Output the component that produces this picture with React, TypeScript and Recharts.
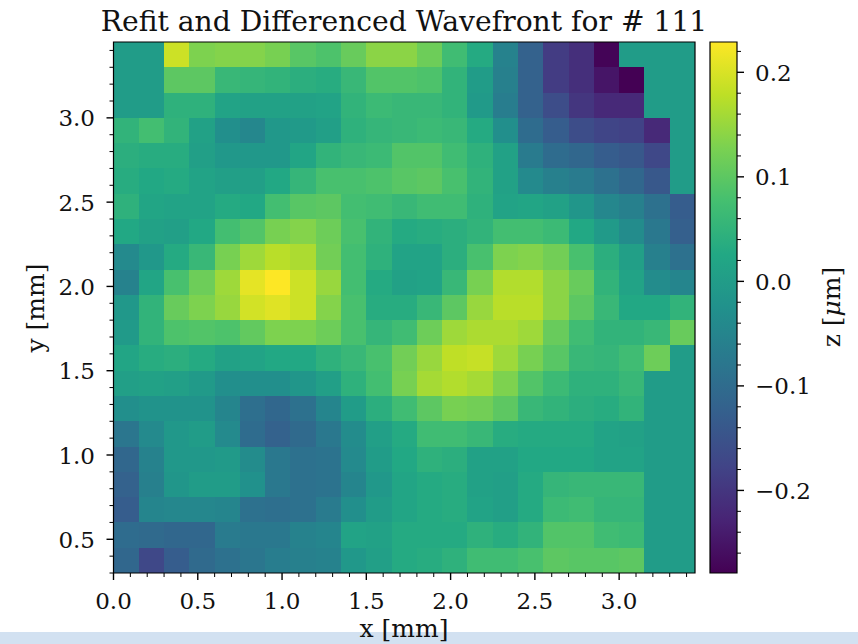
import React from "react";
import { ComposedChart, Scatter, Area, XAxis, YAxis, ReferenceArea } from "recharts";

const titleText = "Refit and Differenced Wavefront for # 111";
const xLabelText = "x [mm]";
const yLabelText = "y [mm]";

const xTicks = [0,0.1,0.2,0.3,0.4,0.5,0.6,0.7,0.8,0.9,1,1.1,1.2,1.3,1.4,1.5,1.6,1.7,1.8,1.9,2,2.1,2.2,2.3,2.4,2.5,2.6,2.7,2.8,2.9,3,3.1,3.2,3.3,3.4];
const yTicks = [0.3,0.4,0.5,0.6,0.7,0.8,0.9,1,1.1,1.2,1.3,1.4,1.5,1.6,1.7,1.8,1.9,2,2.1,2.2,2.3,2.4,2.5,2.6,2.7,2.8,2.9,3,3.1,3.2,3.3,3.4];
const zTicks = [-0.26,-0.24,-0.22,-0.2,-0.18,-0.16,-0.14,-0.12,-0.1,-0.08,-0.06,-0.04,-0.02,0,0.02,0.04,0.06,0.08,0.1,0.12,0.14,0.16,0.18,0.2,0.22];

const viridis = ["#440154","#482475","#414487","#355f8d","#2a788e","#21918c","#22a884","#44bf70","#7ad151","#bddf26","#fde725"];
const Z_MIN = -0.279;
const Z_MAX = 0.229;
const X_MAX = 3.45;
const Y_MIN = 0.3;
const Y_MAX = 3.45;
const STEP = 0.15;

// z [um], first row is the top of the image
const zRows: number[][] = [
  [0,0,0.19,0.13,0.135,0.135,0.125,0.095,0.085,0.11,0.14,0.14,0.115,0.07,0.03,-0.055,-0.12,-0.19,-0.21,-0.275,0,0,0],
  [0,0,0.10,0.10,0.06,0.055,0.05,0.04,0.035,0.06,0.09,0.09,0.085,0.05,0,-0.06,-0.12,-0.19,-0.21,-0.25,-0.279,0,0],
  [0,0,0.045,0.045,0.015,0.01,0.01,0.01,0.015,0.05,0.065,0.06,0.06,0.05,-0.005,-0.065,-0.12,-0.16,-0.2,-0.22,-0.22,0,0],
  [0.05,0.075,0.05,0.01,-0.03,-0.045,-0.01,-0.005,0.005,0.045,0.055,0.06,0.065,0.06,0.03,-0.03,-0.1,-0.13,-0.16,-0.175,-0.18,-0.22,0],
  [0.04,0.035,0.035,0.005,-0.01,-0.01,-0.01,0.02,0.05,0.06,0.065,0.09,0.09,0.07,0.045,0.01,-0.07,-0.1,-0.11,-0.13,-0.14,-0.17,0],
  [0.035,0.025,0.03,0.015,0.005,0.005,0.025,0.055,0.08,0.08,0.085,0.095,0.1,0.08,0.05,0.01,-0.04,-0.06,-0.07,-0.09,-0.11,-0.14,0],
  [0.045,0.02,0.015,0.015,0.03,0.025,0.075,0.095,0.10,0.075,0.07,0.06,0.07,0.07,0.045,0.015,0.02,0.01,-0.015,-0.045,-0.06,-0.09,-0.13],
  [0.025,0.01,0.005,0.025,0.075,0.09,0.125,0.135,0.115,0.08,0.05,0.03,0.035,0.04,0.05,0.075,0.075,0.065,0.025,-0.005,-0.035,-0.075,-0.125],
  [-0.04,-0.01,0.03,0.06,0.125,0.155,0.175,0.165,0.12,0.075,0.045,0.015,0.015,0.04,0.08,0.13,0.135,0.12,0.08,0.04,0.005,-0.06,-0.09],
  [-0.055,0.02,0.08,0.115,0.155,0.21,0.229,0.19,0.15,0.075,0.03,0.01,0.015,0.06,0.125,0.17,0.17,0.14,0.11,0.05,0.015,-0.035,-0.05],
  [-0.01,0.05,0.11,0.13,0.15,0.195,0.205,0.19,0.135,0.08,0.035,0.035,0.06,0.10,0.15,0.175,0.175,0.14,0.10,0.06,0.025,0.025,0.05],
  [-0.005,0.05,0.085,0.09,0.085,0.105,0.13,0.13,0.115,0.08,0.055,0.07,0.115,0.155,0.165,0.165,0.155,0.11,0.07,0.05,0.05,0.06,0.11],
  [0.02,0.035,0.04,0.03,0.01,0.015,0.025,0.025,0.045,0.06,0.08,0.12,0.15,0.18,0.185,0.155,0.125,0.095,0.06,0.055,0.07,0.115,0],
  [0.005,0.01,0.005,-0.005,-0.03,-0.03,-0.03,-0.015,0.005,0.045,0.075,0.125,0.16,0.17,0.16,0.13,0.09,0.065,0.045,0.045,0.06,0,0],
  [-0.03,-0.02,-0.02,-0.02,-0.05,-0.095,-0.11,-0.09,-0.05,0,0.04,0.07,0.10,0.125,0.12,0.10,0.06,0.05,0.04,0.035,0.05,0,0],
  [-0.08,-0.04,-0.01,0,-0.04,-0.1,-0.12,-0.105,-0.075,-0.035,0.005,0.03,0.07,0.07,0.06,0.035,0.03,0.03,0.03,0.015,0.01,0,0],
  [-0.11,-0.055,-0.01,-0.01,-0.005,-0.035,-0.075,-0.09,-0.085,-0.04,0,0.025,0.045,0.04,0.01,0.01,0.025,0.025,0.025,0.015,0.015,0,0],
  [-0.12,-0.06,-0.015,0,0,-0.025,-0.075,-0.09,-0.085,-0.05,-0.01,0.02,0.03,0.035,0.01,0.005,0.03,0.055,0.06,0.06,0.06,0,0],
  [-0.13,-0.05,-0.045,-0.045,-0.05,-0.09,-0.095,-0.09,-0.07,-0.03,0,0.02,0.03,0.035,0.015,0.005,0.03,0.065,0.07,0.055,0.055,0,0],
  [-0.1,-0.105,-0.11,-0.11,-0.07,-0.075,-0.075,-0.055,-0.05,0.015,0.01,0.03,0.03,0.03,0.045,0.035,0.05,0.09,0.09,0.07,0.065,0,0],
  [-0.11,-0.17,-0.13,-0.105,-0.09,-0.08,-0.065,-0.06,-0.055,-0.01,0.005,0.03,0.035,0.045,0.07,0.07,0.08,0.10,0.095,0.095,0.10,0,0],
];

const barData = [
  { x: 0, band: [Z_MIN, Z_MAX] },
  { x: 1, band: [Z_MIN, Z_MAX] },
];

const FONT = "'DejaVu Serif'";
const TICK_SIZE = 23;
const LABEL_SIZE = 25;
const W = 858;
const H = 644;
const PLOT = { left: 113.5, right: 695, top: 42, bottom: 573 };
const cellW = ((PLOT.right - PLOT.left) / X_MAX) * STEP;
const cellH = ((PLOT.bottom - PLOT.top) / (Y_MAX - Y_MIN)) * STEP;

const hexToRgb = (h: string) => [1, 3, 5].map((i) => parseInt(h.slice(i, i + 2), 16));
function colorOf(z: number): string {
  const t = Math.max(0, Math.min(1, (z - Z_MIN) / (Z_MAX - Z_MIN))) * (viridis.length - 1);
  const i = Math.min(Math.floor(t), viridis.length - 2);
  const a = hexToRgb(viridis[i]);
  const b = hexToRgb(viridis[i + 1]);
  const f = t - i;
  return `rgb(${a.map((v, k) => Math.round(v + (b[k] - v) * f)).join(",")})`;
}

const cells = zRows.flatMap((row, r) =>
  row.map((z, c) => ({
    x: (c + 0.5) * STEP,
    y: Y_MAX - (r + 0.5) * STEP,
    z,
  }))
);

const CellShape = (props: any) => {
  const { cx, cy, payload } = props;
  const x0 = Math.round(cx - cellW / 2);
  const x1 = Math.round(cx + cellW / 2);
  const y0 = Math.round(cy - cellH / 2);
  const y1 = Math.round(cy + cellH / 2);
  return <rect x={x0} y={y0} width={x1 - x0} height={y1 - y0} fill={colorOf(payload.z)} shapeRendering="crispEdges" />;
};

const near = (v: number, step: number) => Math.abs(v / step - Math.round(v / step)) < 1e-6;

const XTick = (props: any) => {
  const { x, y, payload } = props;
  const major = near(payload.value, 0.5);
  return (
    <g>
      <line x1={x} x2={x} y1={y} y2={y + (major ? 7 : 4)} stroke="#000" strokeWidth={major ? 1.4 : 1} />
      {major && (
        <text x={x} y={y + 36} textAnchor="middle" fontFamily={FONT} fontSize={TICK_SIZE} fill="#111">
          {payload.value.toFixed(1)}
        </text>
      )}
    </g>
  );
};

const YTick = (props: any) => {
  const { x, y, payload } = props;
  const major = near(payload.value, 0.5);
  return (
    <g>
      <line x1={x} x2={x - (major ? 7 : 4)} y1={y} y2={y} stroke="#000" strokeWidth={major ? 1.4 : 1} />
      {major && (
        <text x={x - 18.5} y={y + 8.5} textAnchor="end" fontFamily={FONT} fontSize={TICK_SIZE} fill="#111">
          {payload.value.toFixed(1)}
        </text>
      )}
    </g>
  );
};

const ZTick = (props: any) => {
  const { x, y, payload } = props;
  const major = near(payload.value, 0.1);
  const label = payload.value < 0 ? `\u2212${Math.abs(payload.value).toFixed(1)}` : payload.value.toFixed(1);
  return (
    <g>
      <line x1={x} x2={x + (major ? 7 : 4)} y1={y} y2={y} stroke="#000" strokeWidth={major ? 1.4 : 1} />
      {major && (
        <text x={x + 18} y={y + 8.5} textAnchor="start" fontFamily={FONT} fontSize={TICK_SIZE} fill="#111">
          {label}
        </text>
      )}
    </g>
  );
};

const YAxisLabel = () => (
  <text
    x={37}
    y={308}
    transform="rotate(-90 37 308)"
    dominantBaseline="middle"
    textAnchor="middle"
    fontFamily={FONT}
    fontSize={LABEL_SIZE}
    fill="#111"
  >
    {yLabelText}
  </text>
);

const XAxisLabel = () => (
  <text x={404} y={637} textAnchor="middle" fontFamily={FONT} fontSize={LABEL_SIZE} fill="#111">
    {xLabelText}
  </text>
);

const ZAxisLabel = () => (
  <text
    x={133}
    y={307}
    transform="rotate(-90 133 307)"
    dominantBaseline="middle"
    textAnchor="middle"
    fontFamily={FONT}
    fontSize={LABEL_SIZE}
    fill="#111"
  >
    z [<tspan fontStyle="italic">{"\u03bc"}</tspan>m]
  </text>
);

export default function App() {
  return (
    <div style={{ position: "absolute", left: 0, top: 0, width: W, height: H, background: "#fff", overflow: "hidden" }}>
      <div style={{ position: "absolute", left: 0, top: 632, width: W, height: 12, background: "#d2e1f1" }} />
      <div
        style={{
          position: "absolute",
          left: 0,
          width: 808,
          top: 5,
          textAlign: "center",
          fontFamily: FONT,
          fontSize: 28.2,
          lineHeight: "34px",
          color: "#111",
          whiteSpace: "nowrap",
        }}
      >
        {titleText}
      </div>
      <div style={{ position: "absolute", left: 0, top: 0 }}>
        <ComposedChart
          width={W}
          height={H}
          margin={{ top: PLOT.top, right: W - PLOT.right, bottom: H - PLOT.bottom - 40, left: PLOT.left - 60 }}
          style={{ background: "transparent" }}
        >
          <XAxis
            type="number"
            dataKey="x"
            domain={[0, X_MAX]}
            ticks={xTicks}
            interval={0}
            allowDataOverflow
            height={40}
            tickSize={0}
            tickMargin={0}
            axisLine={false}
            tickLine={false}
            tick={<XTick />}
            label={<XAxisLabel />}
          />
          <YAxis
            type="number"
            dataKey="y"
            domain={[Y_MIN, Y_MAX]}
            ticks={yTicks}
            interval={0}
            allowDataOverflow
            width={60}
            tickSize={0}
            tickMargin={0}
            axisLine={false}
            tickLine={false}
            tick={<YTick />}
            label={<YAxisLabel />}
          />
          <Scatter data={cells} dataKey="y" shape={<CellShape />} isAnimationActive={false} />
          <ReferenceArea x1={0} x2={X_MAX} y1={Y_MIN} y2={Y_MAX} fill="none" stroke="#000" strokeWidth={1.2} zIndex={1000} />
        </ComposedChart>
      </div>
      <div style={{ position: "absolute", left: 700, top: 0 }}>
        <ComposedChart
          width={158}
          height={H}
          data={barData}
          margin={{ top: PLOT.top, right: 0, bottom: H - PLOT.bottom, left: 10 }}
          style={{ background: "transparent" }}
        >
          <defs>
            <linearGradient id="viridisBar" x1="0" y1="1" x2="0" y2="0">
              {viridis.map((c, i) => (
                <stop key={c} offset={i / (viridis.length - 1)} stopColor={c} />
              ))}
            </linearGradient>
          </defs>
          <XAxis type="number" dataKey="x" domain={[0, 1]} hide />
          <YAxis
            yAxisId="z"
            orientation="right"
            type="number"
            domain={[Z_MIN, Z_MAX]}
            ticks={zTicks}
            interval={0}
            allowDataOverflow
            width={121}
            tickSize={0}
            tickMargin={0}
            axisLine={false}
            tickLine={false}
            tick={<ZTick />}
            label={<ZAxisLabel />}
          />
          <Area
            yAxisId="z"
            dataKey="band"
            type="linear"
            fill="url(#viridisBar)"
            fillOpacity={1}
            stroke="none"
            dot={false}
            activeDot={false}
            isAnimationActive={false}
          />
          <ReferenceArea
            yAxisId="z"
            x1={0}
            x2={1}
            y1={Z_MIN}
            y2={Z_MAX}
            fill="none"
            stroke="#000"
            strokeWidth={1.2}
          />
        </ComposedChart>
      </div>
    </div>
  );
}
